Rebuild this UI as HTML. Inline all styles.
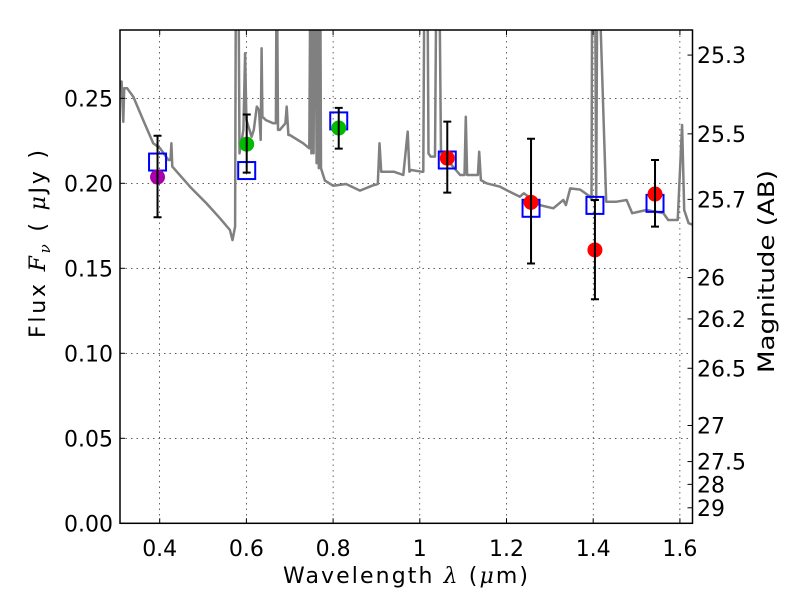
<!DOCTYPE html>
<html><head><meta charset="utf-8"><style>
body{margin:0;background:#fff;}
svg{display:block;font-family:"DejaVu Sans","Liberation Sans",sans-serif;}
</style></head><body>
<svg id="chart" width="800" height="600" viewBox="0 0 800 600" xmlns="http://www.w3.org/2000/svg">
<rect width="800" height="600" fill="#fff"/>
<defs><clipPath id="pc"><rect x="120" y="30" width="572.5" height="493.3"/></clipPath></defs>
<g id="grid"></g>
<g id="spec" clip-path="url(#pc)"></g>
<g id="marks"></g>
<g id="axes"></g>
<text x="283" y="583" font-size="22" textLength="245" lengthAdjust="spacing">Wavelength  <tspan font-style="italic" font-family="DejaVu Serif,serif">λ</tspan> (<tspan font-style="italic" font-family="DejaVu Serif,serif">μ</tspan>m)</text>
<text transform="translate(45,338) rotate(-90)" font-size="22" textLength="188" lengthAdjust="spacing">Flux  <tspan font-style="italic" font-family="DejaVu Serif,serif">F</tspan><tspan font-style="italic" font-family="DejaVu Serif,serif" font-size="15" dy="5">ν</tspan><tspan dy="-5">  ( </tspan><tspan font-style="italic" font-family="DejaVu Serif,serif">μ</tspan>Jy )</text>
<text transform="translate(774,373) rotate(-90)" font-size="22" textLength="203" lengthAdjust="spacingAndGlyphs">Magnitude (AB)</text>
</svg>
<script>
const xTicks=[0.4,0.6,0.8,1.0,1.2,1.4,1.6];
const xTickLabels=["0.4","0.6","0.8","1","1.2","1.4","1.6"];
const yTicks=[0,0.05,0.10,0.15,0.20,0.25];
const yTickLabels=["0.00","0.05","0.10","0.15","0.20","0.25"];
const magTicks=[25.3,25.5,25.7,26,26.2,26.5,27,27.5,28,29];
const magTickLabels=["25.3","25.5","25.7","26","26.2","26.5","27","27.5","28","29"];
const bandWave=[0.395,0.6007,0.813,1.0634,1.2566,1.404,1.5426];
const obsFlux=[0.2037,0.2230,0.2325,0.2148,0.1888,0.1608,0.1937];
const errHigh=[0.228,0.2405,0.2444,0.2363,0.2262,0.1902,0.2137];
const errLow=[0.180,0.2063,0.2204,0.1945,0.1528,0.1318,0.1745];
const modelFlux=[0.2125,0.2075,0.2367,0.2137,0.1853,0.187,0.1882];
const pointColors=["#aa00aa","#00bb00","#00bb00","#ff0000","#ff0000","#ff0000","#ff0000"];
const specWave=[0.307,0.312,0.316,0.318,0.325,0.339,0.362,0.385,0.401,0.42,0.425,0.427,0.429,0.47,0.508,0.539,0.562,0.568,0.574,0.576,0.579,0.581,0.584,0.593,0.597,0.6,0.612,0.617,0.624,0.629,0.633,0.635,0.637,0.645,0.662,0.668,0.67,0.673,0.677,0.69,0.693,0.697,0.70,0.731,0.745,0.748,0.750,0.752,0.755,0.757,0.759,0.762,0.765,0.767,0.770,0.772,0.781,0.80,0.83,0.862,0.89,0.903,0.907,0.911,0.94,0.962,0.972,0.976,0.98,1.004,1.008,1.011,1.017,1.02,1.025,1.035,1.039,1.044,1.049,1.07,1.093,1.103,1.106,1.109,1.13,1.134,1.137,1.141,1.154,1.185,1.2,1.231,1.24,1.277,1.308,1.331,1.337,1.347,1.37,1.393,1.396,1.398,1.404,1.407,1.41,1.43,1.454,1.477,1.49,1.523,1.562,1.573,1.584,1.595,1.605,1.61,1.62,1.63];
const specFlux=[0.258,0.2598,0.2362,0.2559,0.2559,0.2509,0.2372,0.2235,0.2206,0.2137,0.2137,0.2235,0.2098,0.198,0.1882,0.1794,0.1725,0.1666,0.1745,0.35,0.35,0.35,0.2176,0.2314,0.2765,0.2373,0.2274,0.2314,0.2451,0.2431,0.2255,0.2794,0.2392,0.2372,0.2353,0.2353,0.35,0.2314,0.2314,0.2353,0.2451,0.2284,0.2284,0.2235,0.2206,0.35,0.2176,0.35,0.2176,0.35,0.35,0.2118,0.35,0.2088,0.35,0.2088,0.2016,0.1986,0.1996,0.1957,0.1986,0.1996,0.2235,0.2068,0.2068,0.2049,0.2304,0.2068,0.2078,0.2068,0.2068,0.35,0.35,0.2176,0.2157,0.2157,0.35,0.35,0.2176,0.2118,0.2049,0.2049,0.2392,0.2049,0.2049,0.2049,0.2186,0.2019,0.2,0.198,0.196,0.1921,0.1941,0.1872,0.1853,0.1902,0.1872,0.197,0.1963,0.1921,0.1902,0.35,0.35,0.1902,0.35,0.1892,0.1892,0.1902,0.1824,0.1843,0.1824,0.1784,0.1784,0.1784,0.2343,0.1843,0.1765,0.1755,0.1755];
const X0=120,X1=692.5,Y0=523.3,Y1=30;
const xs=v=>159.7+(v-0.4)*433.5;
const ys=f=>523.3-f*1700;
const magToY=m=>ys(Math.pow(10,(23.9-m)/2.5));
const NS="http://www.w3.org/2000/svg";
function mk(p,tag,at){const e=document.createElementNS(NS,tag);for(const k in at)e.setAttribute(k,at[k]);p.appendChild(e);return e;}
const grid=document.getElementById('grid'),axes=document.getElementById('axes'),spec=document.getElementById('spec'),marks=document.getElementById('marks');
xTicks.forEach((v,i)=>{const x=xs(v);
 let g=mk(grid,'line',{x1:x,x2:x,y1:Y1,y2:Y0,stroke:'#000','stroke-width':0.6,'stroke-dasharray':'1.5,4'});
 
 
 mk(axes,'line',{x1:x,x2:x,y1:Y0,y2:Y0-5,stroke:'#000','stroke-width':1});
 mk(axes,'line',{x1:x,x2:x,y1:Y1,y2:Y1+5,stroke:'#000','stroke-width':1});
 let t=mk(axes,'text',{x:x,y:556,'font-size':22,'text-anchor':'middle'});t.textContent=xTickLabels[i];
 
 
});
yTicks.forEach((v,i)=>{const y=ys(v);
 if(v>0){let g=mk(grid,'line',{x1:X0,x2:X1,y1:y,y2:y,stroke:'#000','stroke-width':0.6,'stroke-dasharray':'1.5,4'});
 
 }
 mk(axes,'line',{x1:X0,x2:X0+5,y1:y,y2:y,stroke:'#000','stroke-width':1});
 let t=mk(axes,'text',{x:113,y:y+8,'font-size':22,'text-anchor':'end'});t.textContent=yTickLabels[i];
 
 
});
magTicks.forEach((m,i)=>{const y=magToY(m);
 mk(axes,'line',{x1:X1,x2:X1-5,y1:y,y2:y,stroke:'#000','stroke-width':1});
 let t=mk(axes,'text',{x:697,y:y+8,'font-size':22,'text-anchor':'start'});t.textContent=magTickLabels[i];
 
 
});
let pts=specWave.map((w,i)=>xs(w).toFixed(1)+','+ys(specFlux[i]).toFixed(1)).join(' ');
let pl=mk(spec,'polyline',{points:pts,fill:'none',stroke:'#808080','stroke-width':2.5,'stroke-linejoin':'round'});


bandWave.forEach((w,i)=>{const x=xs(w);
 let s=mk(marks,'rect',{x:x-8.5,y:ys(modelFlux[i])-8.5,width:17,height:17,fill:'none',stroke:'#0000ff','stroke-width':2});
 
 
});
bandWave.forEach((w,i)=>{const x=xs(w);
 let c=mk(marks,'circle',{cx:x,cy:ys(obsFlux[i]),r:7.5,fill:pointColors[i]});
 
 
});
bandWave.forEach((w,i)=>{const x=xs(w),a=ys(errHigh[i]),b=ys(errLow[i]);
 let e=mk(marks,'path',{d:`M${x},${a}V${b}M${x-4},${a}H${x+4}M${x-4},${b}H${x+4}`,stroke:'#000','stroke-width':2,fill:'none'});
 
 
});
let fr=mk(axes,'rect',{x:X0,y:Y1,width:X1-X0,height:Y0-Y1,fill:'none',stroke:'#000','stroke-width':1.5});


</script>
</body></html>
